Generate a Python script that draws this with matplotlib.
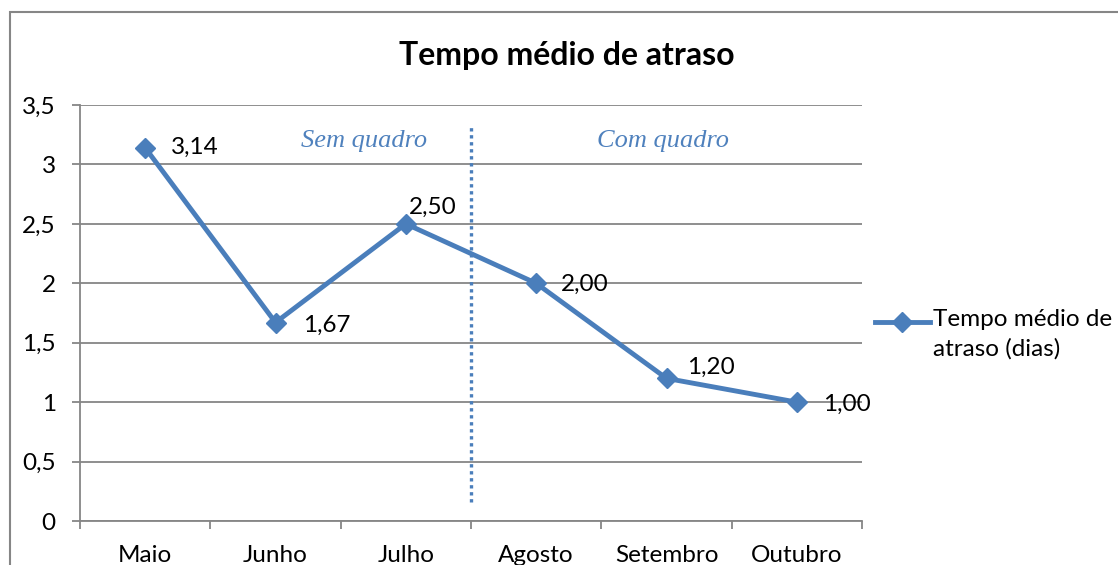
import matplotlib.pyplot as plt
from matplotlib.lines import Line2D
from matplotlib.patches import Rectangle

meses = ['Maio', 'Junho', 'Julho', 'Agosto', 'Setembro', 'Outubro']
tempo_medio = [3.14, 1.67, 2.50, 2.00, 1.20, 1.00]
rotulos = ['3,14', '1,67', '2,50', '2,00', '1,20', '1,00']
y_ticks = [0, 0.5, 1, 1.5, 2, 2.5, 3, 3.5]
y_labels = ['0', '0,5', '1', '1,5', '2', '2,5', '3', '3,5']
# offsets (pixels) of the data labels relative to the points
offsets = [(26, 0), (28, -3), (3, 17), (25, -1), (21, 11), (26, -2)]

W, H = 1118, 565
azul = '#4A7EBB'
fs = 17.5
plt.rcParams['font.family'] = ['Lato', 'DejaVu Sans']

fig = plt.figure(figsize=(W / 100, H / 100), dpi=100)
ax = fig.add_axes([80 / W, 1 - 521 / H, 782 / W, 416 / H])

x = range(len(meses))
ax.plot(x, tempo_medio, color=azul, lw=3.5, marker='D', markersize=10,
        label='Tempo médio de\natraso (dias)')
for i, (v, t) in enumerate(zip(tempo_medio, rotulos)):
    ax.annotate(t, (i, v), xytext=(offsets[i][0] * 0.72, offsets[i][1] * 0.72),
                textcoords='offset points', ha='left', va='center', fontsize=fs)

ax.set_xlim(-0.5, len(meses) - 0.5)
ax.set_ylim(0, 3.5)
ax.set_yticks(y_ticks)
ax.set_yticklabels(y_labels, fontsize=fs)
ax.set_xticks(list(x))
ax.set_xticklabels(meses, fontsize=fs)
ax.set_xticks([i - 0.5 for i in range(len(meses) + 1)], minor=True)
ax.tick_params(axis='x', which='major', length=0, pad=17)
ax.tick_params(axis='x', which='minor', length=5.5, color='#868686', width=1.3)
ax.tick_params(axis='y', length=5.5, color='#868686', width=1.3, pad=12)
ax.grid(axis='y', color='#868686', lw=1.3)
ax.set_axisbelow(True)
for s in ['top', 'right']:
    ax.spines[s].set_visible(False)
for s in ['left', 'bottom']:
    ax.spines[s].set_color('#868686')
    ax.spines[s].set_linewidth(1.3)

# separation between periods
ax.plot([2.5, 2.5], [0.16, 3.33], color=azul, lw=2.4, linestyle=(0, (1, 1.1)))
ax.text(1.68, 3.2, 'Sem quadro', family='Liberation Serif', style='italic',
        fontsize=19, color='#4F81BD', ha='center', va='center')
ax.text(3.97, 3.2, 'Com quadro', family='Liberation Serif', style='italic',
        fontsize=19, color='#4F81BD', ha='center', va='center')

fig.text(567 / W, 1 - 55 / H, 'Tempo médio de atraso', fontsize=23,
         fontweight='bold', ha='center', va='center')

# legend
ly = 1 - 322 / H
fig.add_artist(Line2D([875 / W, 902 / W, 930 / W], [ly, ly, ly], color=azul,
                      lw=3.5, marker='D', markersize=10, markevery=[1]))
fig.text(933 / W, 1 - 309 / H, 'Tempo médio de\natraso (dias)', fontsize=fs,
         ha='left', va='top', linespacing=1.45)

fig.add_artist(Rectangle((10 / W, -0.1), 1.2, 1 - 12 / H + 0.1,
                         transform=fig.transFigure, fill=False,
                         edgecolor='#868686', lw=1.5))

fig.savefig('out.png', dpi=100)
